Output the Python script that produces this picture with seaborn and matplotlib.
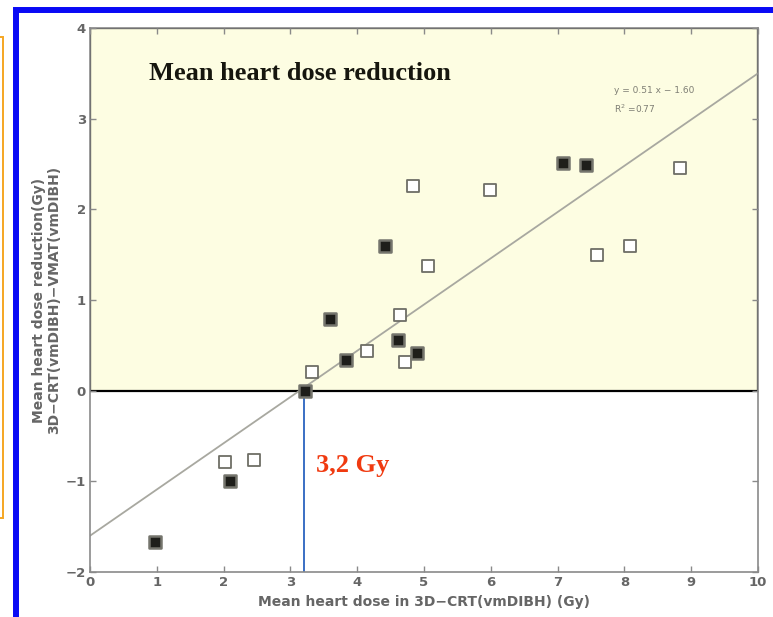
import matplotlib
matplotlib.use("Agg")
import matplotlib.pyplot as plt
from matplotlib.patches import Rectangle
import numpy as np
import pandas as pd
import seaborn as sns

# Mean heart dose in 3D-CRT (x) and dose reduction 3D-CRT - VMAT (y), in Gy
filled_x = [0.97, 2.10, 3.22, 3.83, 3.59, 4.42, 4.61, 4.90, 7.08, 7.43]
filled_y = [-1.67, -1.00, 0.00, 0.34, 0.79, 1.60, 0.56, 0.42, 2.51, 2.49]
open_x = [2.02, 2.46, 3.32, 4.15, 4.64, 4.72, 4.84, 5.06, 5.99, 7.59, 8.08, 8.83]
open_y = [-0.79, -0.77, 0.21, 0.44, 0.84, 0.32, 2.26, 1.38, 2.21, 1.50, 1.60, 2.46]

# Linear fit reported on the chart
slope = 0.51
intercept = -1.60
r_squared = 0.77
threshold = 3.2

x_ticks = list(range(0, 11))
y_ticks = list(range(-2, 5))

sns.set_theme(style="white")
plt.rcParams["font.family"] = ["DejaVu Sans"]

fig = plt.figure(figsize=(7.73, 6.17), dpi=100)
ax = fig.add_axes([90 / 773, 45 / 617, 668 / 773, 544 / 617])
ax.set_facecolor("white")

# highlighted region of positive reduction
ax.add_patch(Rectangle((0, 0), 10, 4, facecolor="#FDFDE2", edgecolor="black",
                       linewidth=1.6, zorder=0.5))

# regression line
fit_x = np.array([0.0, 10.0])
fit_df = pd.DataFrame({"x": fit_x, "y": slope * fit_x + intercept})
sns.lineplot(data=fit_df, x="x", y="y", ax=ax, color="#A8A8A0", linewidth=1.3, zorder=2)

open_df = pd.DataFrame({"x": open_x, "y": open_y})
filled_df = pd.DataFrame({"x": filled_x, "y": filled_y})
sns.scatterplot(data=open_df, x="x", y="y", ax=ax, marker="s", s=75,
                facecolor="white", edgecolor="#6E6E66", linewidth=1.3, zorder=3)
sns.scatterplot(data=filled_df, x="x", y="y", ax=ax, marker="s", s=75,
                facecolor="#1E1E1A", edgecolor="#75756D", linewidth=1.8, zorder=3)

# threshold marker
ax.plot([threshold, threshold], [-2, 0], color="#3A6FC4", linewidth=1.4, zorder=2.5)
ax.text(3.38, -0.83, "3,2 Gy", color="#F03A10", fontsize=19, fontweight="bold",
        family="Liberation Serif", ha="left", va="center", zorder=4)

ax.text(0.88, 3.5, "Mean heart dose reduction", color="#16160E", fontsize=19,
        fontweight="bold", family="Liberation Serif", ha="left", va="center", zorder=4)
ax.text(7.84, 3.31, f"y = {slope:.2f} x − {abs(intercept):.2f}", color="#7E7E74",
        fontsize=6.5, ha="left", va="center", zorder=4)
ax.text(7.84, 3.11, f"R$^2$ ={r_squared:.2f}", color="#7E7E74",
        fontsize=6.5, ha="left", va="center", zorder=4)

ax.set_xlim(0, 10)
ax.set_ylim(-2, 4)
ax.set_xticks(x_ticks)
ax.set_yticks(y_ticks)
ax.set_xticklabels([str(t) for t in x_ticks])
ax.set_yticklabels([str(t).replace("-", "−") for t in y_ticks])
ax.tick_params(direction="in", length=4, width=1, color="#8A8A8A",
               labelcolor="#666666", labelsize=9.5, top=True, right=True,
               bottom=True, left=True, pad=3)
for lab in ax.get_xticklabels() + ax.get_yticklabels():
    lab.set_fontweight("bold")
for sp in ax.spines.values():
    sp.set_color("#8A8A8A")
    sp.set_linewidth(1.2)

ax.set_xlabel("Mean heart dose in 3D−CRT(vmDIBH) (Gy)", color="#666666",
              fontsize=10, fontweight="bold", labelpad=4)
ax.set_ylabel("Mean heart dose reduction(Gy)\n3D−CRT(vmDIBH)−VMAT(vmDIBH)",
              color="#666666", fontsize=10, fontweight="bold", labelpad=3,
              linespacing=1.1)

# slide frames
fig.patches.append(Rectangle((16.3 / 773, -0.1), 1.2, 1 - 10.3 / 617 + 0.1,
                             transform=fig.transFigure, fill=False,
                             edgecolor="#0A0AF5", linewidth=4.3))
fig.patches.append(Rectangle((-0.05, 1 - 518 / 617), 0.05 + 2.8 / 773, (518 - 37) / 617,
                             transform=fig.transFigure, fill=False,
                             edgecolor="#F5A623", linewidth=1.4))

fig.savefig("out.png", dpi=100)
